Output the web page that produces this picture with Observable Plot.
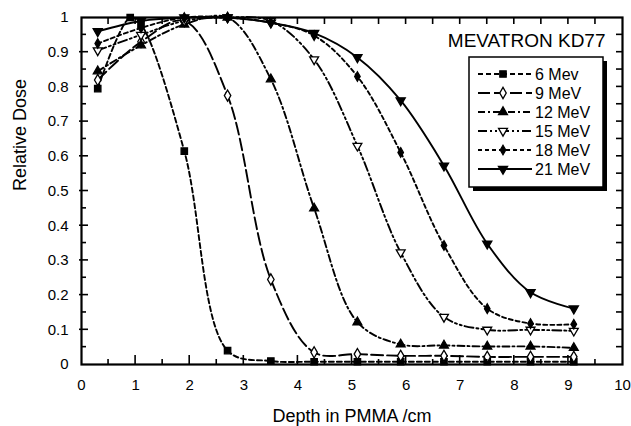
<!DOCTYPE html>
<html><head><meta charset="utf-8">
<script src="https://cdn.jsdelivr.net/npm/d3@7"></script>
<script src="https://cdn.jsdelivr.net/npm/@observablehq/plot@0.6"></script>
<style>
body{margin:0;background:#fff}
svg{font-family:"Liberation Sans",Arial,Helvetica,sans-serif}
</style>
</head><body><div id="chart"></div>
<script>
// ---- data ----
const depths6 = [0.3, 0.9, 1.1, 1.9, 2.7, 3.5, 4.3, 5.1, 5.9, 6.7, 7.5, 8.3, 9.1];
const depths  = [0.3, 1.1, 1.9, 2.7, 3.5, 4.3, 5.1, 5.9, 6.7, 7.5, 8.3, 9.1];
const dose6  = [0.795, 1.0, 0.98, 0.615, 0.04, 0.01, 0.008, 0.008, 0.008, 0.008, 0.008, 0.008, 0.008];
const dose9  = [0.82, 0.93, 0.99, 0.775, 0.245, 0.035, 0.03, 0.025, 0.025, 0.022, 0.022, 0.022];
const dose12 = [0.845, 0.92, 0.98, 1.0, 0.822, 0.45, 0.122, 0.058, 0.055, 0.052, 0.052, 0.048];
const dose15 = [0.905, 0.95, 0.99, 1.0, 0.99, 0.879, 0.63, 0.323, 0.137, 0.1, 0.1, 0.097];
const dose18 = [0.925, 0.97, 1.0, 1.0, 0.985, 0.948, 0.83, 0.611, 0.343, 0.161, 0.118, 0.116];
const dose21 = [0.96, 0.99, 1.0, 1.0, 0.985, 0.955, 0.885, 0.761, 0.573, 0.348, 0.208, 0.161];
const seriesNames = ["6 Mev", "9 MeV", "12 MeV", "15 MeV", "18 MeV", "21 MeV"];
const xTicks = [0, 1, 2, 3, 4, 5, 6, 7, 8, 9, 10];
const yTicks = [0, 0.1, 0.2, 0.3, 0.4, 0.5, 0.6, 0.7, 0.8, 0.9, 1];
const titleText = "MEVATRON KD77";
const xLabel = "Depth in PMMA /cm";
const yLabel = "Relative Dose";

// inverted triangle symbol
const sqrt3 = Math.sqrt(3);
const triangleDown = {
  draw(context, size) {
    const y = -Math.sqrt(size / (sqrt3 * 3));
    context.moveTo(0, -2 * y);
    context.lineTo(-sqrt3 * y, y);
    context.lineTo(sqrt3 * y, y);
    context.closePath();
  }
};

const styles = [
  {dash: "5,3",          symbol: "square",   d3sym: d3.symbolSquare,   fill: "black", r: 3.6},
  {dash: "12,4",         symbol: "diamond",  d3sym: d3.symbolDiamond,  fill: "white", r: 3.4},
  {dash: "7,3,2,3",      symbol: "triangle", d3sym: d3.symbolTriangle, fill: "black", r: 3.3},
  {dash: "9,3,2,3,2,3",  symbol: triangleDown, d3sym: triangleDown,    fill: "white", r: 3.3},
  {dash: "4,3",          symbol: "diamond",  d3sym: d3.symbolDiamond,  fill: "black", r: 2.9},
  {dash: null,           symbol: triangleDown, d3sym: triangleDown,    fill: "black", r: 3.4}
];
const xsList = [depths6, depths, depths, depths, depths, depths];
const ysList = [dose6, dose9, dose12, dose15, dose18, dose21];

const tables = seriesNames.map((name, k) =>
  xsList[k].map((x, i) => ({series: name, x, y: ysList[k][i]})));

const marks = [];
tables.forEach((t, k) => {
  const s = styles[k];
  marks.push(Plot.line(t, {x: "x", y: "y", curve: "catmull-rom", stroke: "black",
    strokeWidth: 1.9, strokeDasharray: s.dash}));
});
tables.forEach((t, k) => {
  const s = styles[k];
  marks.push(Plot.dot(t, {x: "x", y: "y", symbol: s.symbol, r: s.r, fill: s.fill,
    stroke: "black", strokeWidth: 1.3}));
});

const plot = Plot.plot({
  width: 631, height: 426,
  marginLeft: 81, marginRight: 9, marginTop: 17, marginBottom: 62,
  style: {fontSize: "15px", fontFamily: '"Liberation Sans", Arial, sans-serif', background: "white", color: "black"},
  x: {domain: [0, 10]},
  y: {domain: [0, 1]},
  marks: [
    ...marks,
    Plot.axisX({ticks: xTicks, tickSize: 0, tickPadding: 15, label: null, tickFormat: d => String(d), fontSize: 15}),
    Plot.axisY({ticks: yTicks, tickSize: 0, tickPadding: 13, label: null, tickFormat: d => String(d), fontSize: 15}),
    Plot.frame({stroke: "black", strokeWidth: 2.2}),
    Plot.text([xLabel], {frameAnchor: "bottom", dy: 52, lineAnchor: "middle", fontSize: 18, text: d => d}),
    Plot.text([yLabel], {frameAnchor: "left", dx: -61, rotate: -90, lineAnchor: "middle", fontSize: 18, text: d => d}),
    Plot.text([titleText], {frameAnchor: "top-right", dx: -17, dy: 23, textAnchor: "end", lineAnchor: "middle", fontSize: 19, text: d => d})
  ]
});

document.getElementById("chart").appendChild(plot);

// ---- inward ticks using the plot's scales ----
const sx = plot.scale("x"), sy = plot.scale("y");
const X = v => sx.apply(v), Y = v => sy.apply(v);
const svg = d3.select(plot);
const tg = svg.append("g").attr("stroke", "black").attr("stroke-width", 1.6);
const xMajor = xTicks.slice(1, -1);
const xMinor = d3.range(0.5, 10, 1);
const xTop = d3.range(0.5, 10, 0.5);
const yMajor = yTicks.slice(1, -1);
const yMinor = d3.range(0.05, 1, 0.1);
const yRight = d3.range(0.05, 0.99, 0.05);
xMajor.forEach(v => tg.append("line").attr("x1", X(v)).attr("x2", X(v)).attr("y1", Y(0)).attr("y2", Y(0) - 9));
xMinor.forEach(v => tg.append("line").attr("x1", X(v)).attr("x2", X(v)).attr("y1", Y(0)).attr("y2", Y(0) - 5));
xTop.forEach(v => tg.append("line").attr("x1", X(v)).attr("x2", X(v)).attr("y1", Y(1)).attr("y2", Y(1) + 7));
yMajor.forEach(v => tg.append("line").attr("x1", X(0) - 2).attr("x2", X(0) + 7).attr("y1", Y(v)).attr("y2", Y(v)));
yMinor.forEach(v => tg.append("line").attr("x1", X(0)).attr("x2", X(0) + 5).attr("y1", Y(v)).attr("y2", Y(v)));
yRight.forEach(v => tg.append("line").attr("x1", X(10)).attr("x2", X(10) - 6).attr("y1", Y(v)).attr("y2", Y(v)));

// ---- legend ----
const lg = svg.append("g");
const bx = 469, by = 57, bw = 134, bh = 130;
lg.append("rect").attr("x", bx + 4).attr("y", by + 4).attr("width", bw).attr("height", bh).attr("fill", "black");
lg.append("rect").attr("x", bx).attr("y", by).attr("width", bw).attr("height", bh).attr("fill", "white").attr("stroke", "black").attr("stroke-width", 1.5);
seriesNames.forEach((name, k) => {
  const s = styles[k];
  const yy = by + 17 + k * 19;
  lg.append("line").attr("x1", bx + 9).attr("x2", bx + 63).attr("y1", yy).attr("y2", yy)
    .attr("stroke", "black").attr("stroke-width", 1.9).attr("stroke-dasharray", s.dash);
  lg.append("path").attr("d", d3.symbol(s.d3sym, Math.PI * s.r * s.r)())
    .attr("transform", `translate(${bx + 34},${yy})`)
    .attr("fill", s.fill).attr("stroke", "black").attr("stroke-width", 1.3);
  lg.append("text").attr("x", bx + 66).attr("y", yy).attr("dy", "0.35em")
    .attr("text-anchor", "start").attr("font-size", 16).attr("fill", "black").text(name);
});
</script>
</body></html>
